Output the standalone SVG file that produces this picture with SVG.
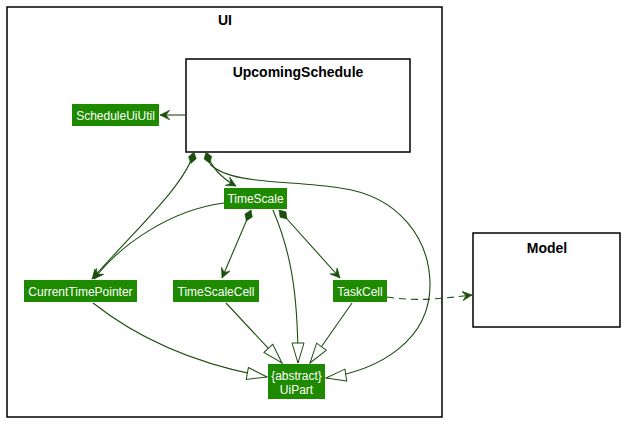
<svg xmlns="http://www.w3.org/2000/svg" width="625" height="422" viewBox="0 0 625 422">
<style>
.frame{fill:#fff;stroke:#000;stroke-width:1.5}
.title{font-family:"Liberation Sans",Arial,sans-serif;font-size:14px;font-weight:bold;fill:#000;text-anchor:middle}
.node rect{fill:#1E8A00}
.node text{font-family:"Liberation Sans",Arial,sans-serif;font-size:12px;fill:#fff;text-anchor:middle}
.edge{fill:none;stroke:#1A4F0C;stroke-width:1.1}
.dash{stroke-dasharray:7,5}
</style>
<defs>
<marker id="arrow" markerUnits="userSpaceOnUse" markerWidth="12" markerHeight="10" viewBox="0 0 12 10" refX="10" refY="5" orient="auto">
<path d="M0,0 L10,5 L0,10 L4,5 Z" fill="#1A4F0C" stroke="#1A4F0C" stroke-width="0.5"/>
</marker>
<marker id="tri" markerUnits="userSpaceOnUse" markerWidth="22" markerHeight="14" viewBox="-1 -1 22 14" refX="20" refY="6" orient="auto">
<path d="M0,0 L20,6 L0,12 Z" fill="#fff" stroke="#1A4F0C" stroke-width="1"/>
</marker>
<marker id="dia" markerUnits="userSpaceOnUse" markerWidth="14" markerHeight="10" viewBox="0 0 14 10" refX="0" refY="5" orient="auto">
<path d="M0,5 L6,1 L12,5 L6,9 Z" fill="#1A4F0C" stroke="#1A4F0C" stroke-width="0.5"/>
</marker>
</defs>
<rect width="625" height="422" fill="#fff"/>
<g id="UI">
<rect class="frame" x="7" y="7" width="435" height="410"/>
<text class="title" x="225" y="25">UI</text>
</g>
<g id="Model">
<rect class="frame" x="473" y="233" width="147" height="94"/>
<text class="title" x="547" y="253">Model</text>
</g>
<g id="UpcomingSchedule">
<rect class="frame" x="186" y="59" width="224" height="93"/>
<text class="title" x="298" y="77">UpcomingSchedule</text>
</g>
<g id="ScheduleUiUtil" class="node">
<rect x="72" y="104" width="87" height="22"/>
<text x="115.5" y="120">ScheduleUiUtil</text>
</g>
<g id="TimeScale" class="node">
<rect x="224" y="188" width="63" height="21"/>
<text x="255.5" y="203">TimeScale</text>
</g>
<g id="CurrentTimePointer" class="node">
<rect x="24" y="280" width="113" height="22"/>
<text x="80.5" y="296">CurrentTimePointer</text>
</g>
<g id="TimeScaleCell" class="node">
<rect x="173" y="280" width="86" height="22"/>
<text x="216" y="296">TimeScaleCell</text>
</g>
<g id="TaskCell" class="node">
<rect x="333" y="280" width="54" height="22"/>
<text x="360" y="296">TaskCell</text>
</g>
<g id="UiPart" class="node">
<rect x="268" y="364" width="57" height="35"/>
<text x="296.5" y="380">{abstract}</text>
<text x="296.5" y="394">UiPart</text>
</g>
<g id="connectors">
<path class="edge" d="M186,115 L160,115" marker-end="url(#arrow)"/>
<path class="edge" d="M194,152 C185,185 140,225 92,279" marker-start="url(#dia)" marker-end="url(#arrow)"/>
<path class="edge" d="M206,152 C212,170 225,180 236,186" marker-start="url(#dia)" marker-end="url(#arrow)"/>
<path class="edge" d="M210,164 C230,185 290,180 340,188 C400,196 430,240 430,285 C430,340 380,370 326,378" marker-end="url(#tri)"/>
<path class="edge" d="M224,203 C170,210 120,245 94,279" marker-end="url(#arrow)"/>
<path class="edge" d="M251,210 L222,278" marker-start="url(#dia)" marker-end="url(#arrow)"/>
<path class="edge" d="M279,210 L340,278" marker-start="url(#dia)" marker-end="url(#arrow)"/>
<path class="edge" d="M273,210 C290,250 298,290 298,363" marker-end="url(#tri)"/>
<path class="edge" d="M226,303 L282,363" marker-end="url(#tri)"/>
<path class="edge" d="M352,303 L310,363" marker-end="url(#tri)"/>
<path class="edge" d="M93,303 C140,340 200,365 267,377" marker-end="url(#tri)"/>
<path class="edge dash" d="M387,297 C420,302 445,298 472,295" marker-end="url(#arrow)"/>
</g>
</svg>
